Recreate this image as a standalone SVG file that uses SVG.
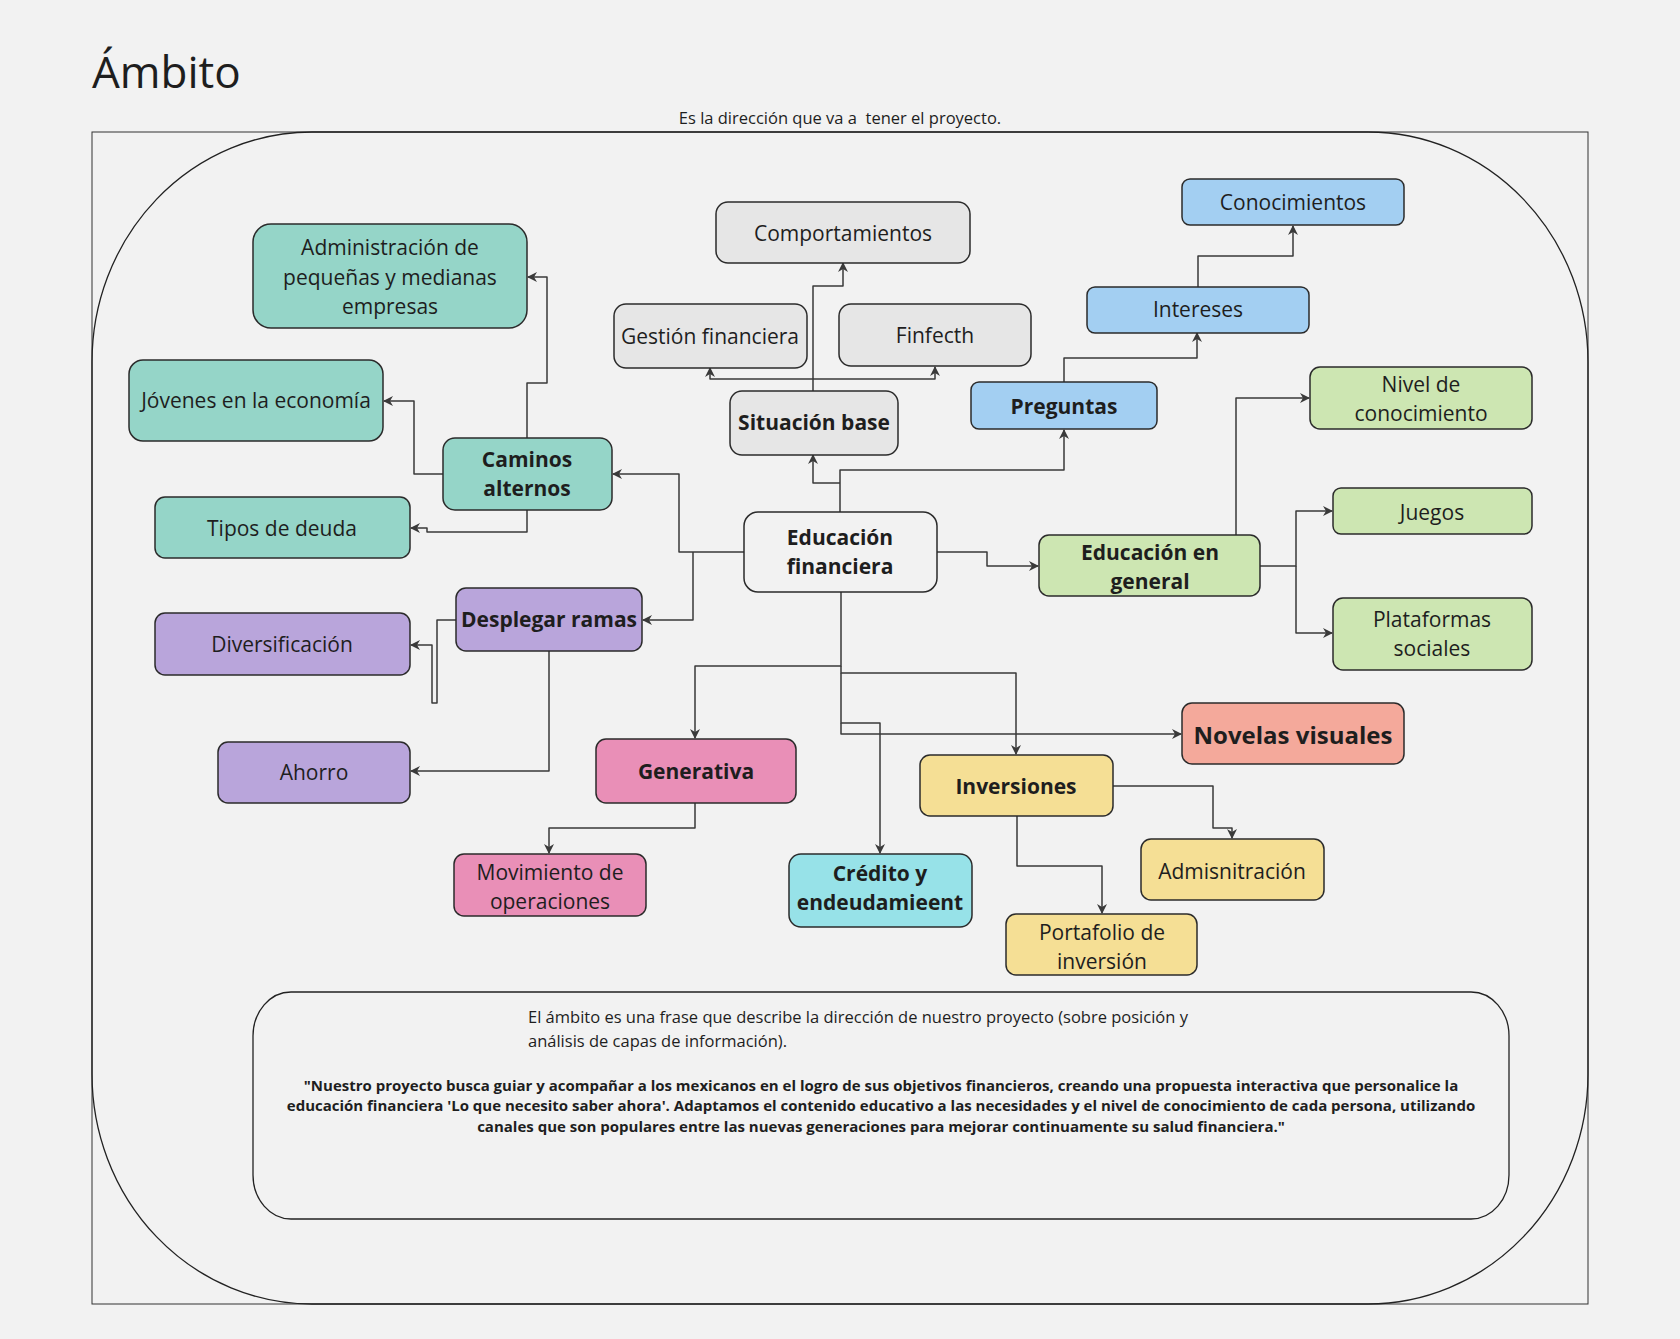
<svg xmlns="http://www.w3.org/2000/svg" width="1680" height="1339" viewBox="0 0 1680 1339">
<defs>
<marker id="arr" viewBox="0 0 10 10" refX="9" refY="5" markerWidth="10" markerHeight="10" markerUnits="userSpaceOnUse" orient="auto">
<path d="M0,0 L10,5 L0,10 L3,5 z" fill="#3a3a3a"/>
</marker>
<style>
.n{stroke:#2b2b2b;stroke-width:1.5}
.t{font-family:"Open Sans","Noto Sans",sans-serif;font-size:21px;fill:#1e1e1e;text-anchor:middle}
.b{font-weight:bold}
.teal{fill:#95d5c8}.gray{fill:#e6e6e6}.blue{fill:#a3cff2}.green{fill:#cde6b2}.purple{fill:#b9a5db}.pink{fill:#e98fb7}.cyan{fill:#97e2e8}.yellow{fill:#f5df95}.salmon{fill:#f4a99b}.white{fill:#f2f2f2}
#connectors path{fill:none;stroke:#3a3a3a;stroke-width:1.5;stroke-linejoin:round;marker-end:url(#arr)}
</style>
</defs>
<rect width="1680" height="1339" fill="#f2f2f2"/>
<text x="92" y="88" style="font-family:'Open Sans','Noto Sans',sans-serif;font-size:44px;fill:#1e1e1e">Ámbito</text>
<text x="840" y="124" style="font-family:'Open Sans','Noto Sans',sans-serif;font-size:16.5px;fill:#1e1e1e;text-anchor:middle;white-space:pre">Es la dirección que va a  tener el proyecto.</text>
<rect x="92" y="132" width="1496" height="1172" fill="none" stroke="#333" stroke-width="1"/>
<rect x="92" y="132" width="1496" height="1172" rx="220" ry="230" fill="none" stroke="#222" stroke-width="1.3"/>

<g id="connectors">
<path d="M840,512 V470 H1064 V430"/>
<path d="M840,483 H813 V455"/>
<path d="M813,391 V379 H710 V368"/>
<path d="M813,379 V286 H843 V263"/>
<path d="M813,379 H935 V367"/>
<path d="M1064,382 V358 H1197 V333"/>
<path d="M1198,287 V256 H1293 V226"/>
<path d="M937,552 H987 V566 H1038"/>
<path d="M1236,535 V398 H1309"/>
<path d="M1260,566 H1296 V511 H1332"/>
<path d="M1296,566 V633 H1332"/>
<path d="M744,552 H679 V474 H613"/>
<path d="M693,552 V620 H643"/>
<path d="M527,438 V383 H547 V277 H528"/>
<path d="M443,474 H414 V401 H384"/>
<path d="M527,510 V532 H427 V528 H411"/>
<path d="M456,620 H437 V703 H432 V645 H411"/>
<path d="M549,651 V771 H411"/>
<path d="M841,592 V666 H695 V738"/>
<path d="M695,803 V828 H549 V853"/>
<path d="M841,666 V673 H1016 V754"/>
<path d="M841,673 V723 H880 V853"/>
<path d="M841,723 V734 H1181"/>
<path d="M1113,786 H1213 V828 H1232 V838"/>
<path d="M1017,816 V866 H1102 V913"/>
</g>

<g id="comportamientos"><rect class="n gray" x="716" y="202" width="254" height="61" rx="12"/><text class="t" x="843" y="241">Comportamientos</text></g>
<g id="gestion"><rect class="n gray" x="614" y="304" width="193" height="64" rx="12"/><text class="t" x="710" y="344">Gestión financiera</text></g>
<g id="finfecth"><rect class="n gray" x="839" y="304" width="192" height="62" rx="12"/><text class="t" x="935" y="343">Finfecth</text></g>
<g id="situacion"><rect class="n gray" x="730" y="391" width="168" height="64" rx="12"/><text class="t b" x="814" y="430">Situación base</text></g>
<g id="conocimientos"><rect class="n blue" x="1182" y="179" width="222" height="46" rx="8"/><text class="t" x="1293" y="210">Conocimientos</text></g>
<g id="intereses"><rect class="n blue" x="1087" y="287" width="222" height="46" rx="8"/><text class="t" x="1198" y="317">Intereses</text></g>
<g id="preguntas"><rect class="n blue" x="971" y="382" width="186" height="47" rx="8"/><text class="t b" x="1064" y="414">Preguntas</text></g>
<g id="nivel"><rect class="n green" x="1310" y="367" width="222" height="62" rx="10"/><text class="t" x="1421" y="392">Nivel de</text><text class="t" x="1421" y="421">conocimiento</text></g>
<g id="juegos"><rect class="n green" x="1333" y="488" width="199" height="46" rx="8"/><text class="t" x="1432" y="520">Juegos</text></g>
<g id="plataformas"><rect class="n green" x="1333" y="598" width="199" height="72" rx="10"/><text class="t" x="1432" y="627">Plataformas</text><text class="t" x="1432" y="656">sociales</text></g>
<g id="educacion-general"><rect class="n green" x="1039" y="535" width="221" height="61" rx="10"/><text class="t b" x="1150" y="560">Educación en</text><text class="t b" x="1150" y="589">general</text></g>
<g id="educacion-financiera"><rect class="n white" x="744" y="512" width="193" height="80" rx="14"/><text class="t b" x="840" y="545">Educación</text><text class="t b" x="840" y="574">financiera</text></g>
<g id="caminos"><rect class="n teal" x="443" y="438" width="169" height="72" rx="12"/><text class="t b" x="527" y="467">Caminos</text><text class="t b" x="527" y="496">alternos</text></g>
<g id="administracion"><rect class="n teal" x="253" y="224" width="274" height="104" rx="18"/><text class="t" x="390" y="255">Administración de</text><text class="t" x="390" y="285">pequeñas y medianas</text><text class="t" x="390" y="314">empresas</text></g>
<g id="jovenes"><rect class="n teal" x="129" y="360" width="254" height="81" rx="14"/><text class="t" x="256" y="408">Jóvenes en la economía</text></g>
<g id="tipos"><rect class="n teal" x="155" y="497" width="255" height="61" rx="10"/><text class="t" x="282" y="536">Tipos de deuda</text></g>
<g id="desplegar"><rect class="n purple" x="456" y="588" width="186" height="63" rx="10"/><text class="t b" x="549" y="627">Desplegar ramas</text></g>
<g id="diversificacion"><rect class="n purple" x="155" y="613" width="255" height="62" rx="10"/><text class="t" x="282" y="652">Diversificación</text></g>
<g id="ahorro"><rect class="n purple" x="218" y="742" width="192" height="61" rx="10"/><text class="t" x="314" y="780">Ahorro</text></g>
<g id="generativa"><rect class="n pink" x="596" y="739" width="200" height="64" rx="10"/><text class="t b" x="696" y="779">Generativa</text></g>
<g id="movimiento"><rect class="n pink" x="454" y="854" width="192" height="62" rx="10"/><text class="t" x="550" y="880">Movimiento de</text><text class="t" x="550" y="909">operaciones</text></g>
<g id="credito"><rect class="n cyan" x="789" y="854" width="183" height="73" rx="12"/><text class="t b" x="880" y="881">Crédito y</text><text class="t b" x="880" y="910">endeudamieent</text></g>
<g id="inversiones"><rect class="n yellow" x="920" y="755" width="193" height="61" rx="10"/><text class="t b" x="1016" y="794">Inversiones</text></g>
<g id="novelas"><rect class="n salmon" x="1182" y="703" width="222" height="61" rx="10"/><text class="t b" x="1293" y="744" style="font-size:24px">Novelas visuales</text></g>
<g id="admisnitracion"><rect class="n yellow" x="1141" y="839" width="183" height="61" rx="10"/><text class="t" x="1232" y="879">Admisnitración</text></g>
<g id="portafolio"><rect class="n yellow" x="1006" y="914" width="191" height="61" rx="10"/><text class="t" x="1102" y="940">Portafolio de</text><text class="t" x="1102" y="969">inversión</text></g>

<g id="descripcion">
<rect x="253" y="992" width="1256" height="227" rx="38" ry="44" fill="none" stroke="#222" stroke-width="1.3"/>
<text x="528" y="1023" style="font-family:'Open Sans','Noto Sans',sans-serif;font-size:16.5px;fill:#1e1e1e">El ámbito es una frase que describe la dirección de nuestro proyecto (sobre posición y</text>
<text x="528" y="1047" style="font-family:'Open Sans','Noto Sans',sans-serif;font-size:16.5px;fill:#1e1e1e">análisis de capas de información).</text>
<g style="font-family:'Open Sans','Noto Sans',sans-serif;font-size:15px;font-weight:bold;fill:#1e1e1e;text-anchor:middle">
<text x="881" y="1091">"Nuestro proyecto busca guiar y acompañar a los mexicanos en el logro de sus objetivos financieros, creando una propuesta interactiva que personalice la</text>
<text x="881" y="1111">educación financiera 'Lo que necesito saber ahora'. Adaptamos el contenido educativo a las necesidades y el nivel de conocimiento de cada persona, utilizando</text>
<text x="881" y="1132">canales que son populares entre las nuevas generaciones para mejorar continuamente su salud financiera."</text>
</g>
</g>
</svg>
